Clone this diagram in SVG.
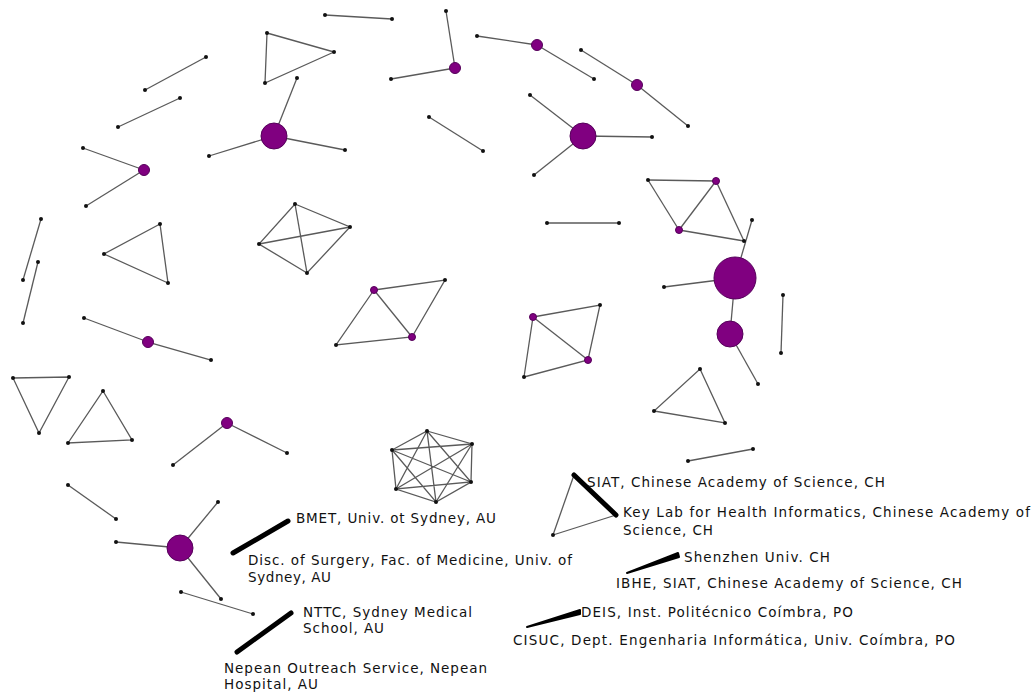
<svg xmlns="http://www.w3.org/2000/svg" width="1034" height="693" viewBox="0 0 1034 693">
<style>
.e{stroke:#5a5a5a;stroke-width:1.3;fill:none}
.k{stroke:#000;stroke-width:5;stroke-linecap:round;fill:none}
.d{fill:#111}
.h{fill:#800080;stroke:#55005a;stroke-width:1}
.l{font-family:"DejaVu Sans","Verdana",sans-serif;font-size:13.5px;fill:#111}
</style>
<rect width="1034" height="693" fill="#fff"/>
<g id="connectors">
<line class="e" x1="325" y1="15" x2="392" y2="19"/>
<line class="e" x1="145" y1="90" x2="206" y2="57"/>
<line class="e" x1="118" y1="127" x2="180" y2="98"/>
<line class="e" x1="144" y1="170" x2="83" y2="148"/>
<line class="e" x1="144" y1="170" x2="86" y2="206"/>
<polygon class="e" points="267,33 334,52 265,83"/>
<line class="e" x1="274" y1="136" x2="297" y2="78"/>
<line class="e" x1="274" y1="136" x2="209" y2="156"/>
<line class="e" x1="274" y1="136" x2="345" y2="150"/>
<line class="e" x1="455" y1="68" x2="446" y2="11"/>
<line class="e" x1="455" y1="68" x2="391" y2="79"/>
<line class="e" x1="537" y1="45" x2="477" y2="36"/>
<line class="e" x1="537" y1="45" x2="594" y2="79"/>
<line class="e" x1="637" y1="85" x2="581" y2="50"/>
<line class="e" x1="637" y1="85" x2="688" y2="126"/>
<line class="e" x1="429" y1="117" x2="483" y2="151"/>
<line class="e" x1="583" y1="136" x2="530" y2="95"/>
<line class="e" x1="583" y1="136" x2="652" y2="137"/>
<line class="e" x1="583" y1="136" x2="534" y2="175"/>
<line class="e" x1="547" y1="223" x2="619" y2="223"/>
<line class="e" x1="648" y1="180" x2="716" y2="181"/>
<line class="e" x1="648" y1="180" x2="679" y2="230"/>
<line class="e" x1="716" y1="181" x2="679" y2="230"/>
<line class="e" x1="679" y1="230" x2="744" y2="241"/>
<line class="e" x1="716" y1="181" x2="744" y2="241"/>
<line class="e" x1="735" y1="278" x2="752" y2="220"/>
<line class="e" x1="735" y1="278" x2="664" y2="287"/>
<line class="e" x1="735" y1="278" x2="730" y2="334"/>
<line class="e" x1="730" y1="334" x2="758" y2="384"/>
<line class="e" x1="783" y1="295" x2="781" y2="353"/>
<line class="e" x1="41" y1="219" x2="23" y2="280"/>
<line class="e" x1="38" y1="262" x2="23" y2="323"/>
<polygon class="e" points="160,224 104,254 168,283"/>
<polygon class="e" points="295,204 350,227 307,273 259,244"/>
<line class="e" x1="295" y1="204" x2="307" y2="273"/>
<line class="e" x1="259" y1="244" x2="350" y2="227"/>
<line class="e" x1="148" y1="342" x2="84" y2="318"/>
<line class="e" x1="148" y1="342" x2="211" y2="360"/>
<polygon class="e" points="13,378 69,377 39,433"/>
<polygon class="e" points="103,391 132,440 68,443"/>
<line class="e" x1="227" y1="423" x2="173" y2="465"/>
<line class="e" x1="227" y1="423" x2="287" y2="453"/>
<polygon class="e" points="374,290 445,280 412,337 336,345"/>
<line class="e" x1="374" y1="290" x2="412" y2="337"/>
<polygon class="e" points="533,317 600,305 588,360 524,377"/>
<line class="e" x1="533" y1="317" x2="588" y2="360"/>
<polygon class="e" points="427,431 472,444 471,482 436,502 396,489 392,450"/>
<polyline class="e" points="427,431 471,482 396,489 427,431 436,502 392,450 471,482"/>
<polyline class="e" points="472,444 436,502"/>
<polyline class="e" points="472,444 396,489"/>
<polyline class="e" points="472,444 392,450"/>
<polygon class="e" points="700,369 725,423 654,411"/>
<line class="e" x1="688" y1="461" x2="753" y2="449"/>
<line class="e" x1="68" y1="485" x2="116" y2="519"/>
<line class="e" x1="180" y1="548" x2="218" y2="502"/>
<line class="e" x1="180" y1="548" x2="116" y2="542"/>
<line class="e" x1="180" y1="548" x2="221" y2="599"/>
<line class="e" x1="181" y1="592" x2="253" y2="614"/>
<line class="k" x1="233" y1="553" x2="288" y2="521"/>
<line class="k" x1="237" y1="652" x2="291" y2="613"/>
<line class="e" x1="574" y1="475" x2="553" y2="535"/>
<line class="e" x1="553" y1="535" x2="616" y2="515"/>
<line class="k" x1="574" y1="475" x2="616" y2="515"/>
<path d="M627,573 L678,553 L679,557 Z" fill="#000" stroke="#000" stroke-width="2" stroke-linejoin="round"/>
<path d="M527,627 L580,610 L580,614 Z" fill="#000" stroke="#000" stroke-width="2" stroke-linejoin="round"/>
</g>
<g id="n1"><circle class="d" cx="325" cy="15" r="2"/></g>
<g id="n2"><circle class="d" cx="392" cy="19" r="2"/></g>
<g id="n3"><circle class="d" cx="145" cy="90" r="2"/></g>
<g id="n4"><circle class="d" cx="206" cy="57" r="2"/></g>
<g id="n5"><circle class="d" cx="118" cy="127" r="2"/></g>
<g id="n6"><circle class="d" cx="180" cy="98" r="2"/></g>
<g id="hub1"><circle class="h" cx="144" cy="170" r="5.5"/></g>
<g id="n7"><circle class="d" cx="83" cy="148" r="2"/></g>
<g id="n8"><circle class="d" cx="86" cy="206" r="2"/></g>
<g id="n9"><circle class="d" cx="267" cy="33" r="2"/></g>
<g id="n10"><circle class="d" cx="334" cy="52" r="2"/></g>
<g id="n11"><circle class="d" cx="265" cy="83" r="2"/></g>
<g id="hub2"><circle class="h" cx="274" cy="136" r="13"/></g>
<g id="n12"><circle class="d" cx="297" cy="78" r="2"/></g>
<g id="n13"><circle class="d" cx="209" cy="156" r="2"/></g>
<g id="n14"><circle class="d" cx="345" cy="150" r="2"/></g>
<g id="hub3"><circle class="h" cx="455" cy="68" r="5.5"/></g>
<g id="n15"><circle class="d" cx="446" cy="11" r="2"/></g>
<g id="n16"><circle class="d" cx="391" cy="79" r="2"/></g>
<g id="hub4"><circle class="h" cx="537" cy="45" r="5.5"/></g>
<g id="n17"><circle class="d" cx="477" cy="36" r="2"/></g>
<g id="n18"><circle class="d" cx="594" cy="79" r="2"/></g>
<g id="hub5"><circle class="h" cx="637" cy="85" r="5.5"/></g>
<g id="n19"><circle class="d" cx="581" cy="50" r="2"/></g>
<g id="n20"><circle class="d" cx="688" cy="126" r="2"/></g>
<g id="n21"><circle class="d" cx="429" cy="117" r="2"/></g>
<g id="n22"><circle class="d" cx="483" cy="151" r="2"/></g>
<g id="hub6"><circle class="h" cx="583" cy="136" r="13"/></g>
<g id="n23"><circle class="d" cx="530" cy="95" r="2"/></g>
<g id="n24"><circle class="d" cx="652" cy="137" r="2"/></g>
<g id="n25"><circle class="d" cx="534" cy="175" r="2"/></g>
<g id="n26"><circle class="d" cx="547" cy="223" r="2"/></g>
<g id="n27"><circle class="d" cx="619" cy="223" r="2"/></g>
<g id="n28"><circle class="d" cx="648" cy="180" r="2"/></g>
<g id="p1"><circle class="h" cx="716" cy="181" r="3.5"/></g>
<g id="p2"><circle class="h" cx="679" cy="230" r="3.5"/></g>
<g id="n29"><circle class="d" cx="744" cy="241" r="2"/></g>
<g id="n30"><circle class="d" cx="752" cy="220" r="2"/></g>
<g id="hub7"><circle class="h" cx="735" cy="278" r="21"/></g>
<g id="n31"><circle class="d" cx="664" cy="287" r="2"/></g>
<g id="hub8"><circle class="h" cx="730" cy="334" r="13"/></g>
<g id="n32"><circle class="d" cx="758" cy="384" r="2"/></g>
<g id="n33"><circle class="d" cx="783" cy="295" r="2"/></g>
<g id="n34"><circle class="d" cx="781" cy="353" r="2"/></g>
<g id="n35"><circle class="d" cx="41" cy="219" r="2"/></g>
<g id="n36"><circle class="d" cx="23" cy="280" r="2"/></g>
<g id="n37"><circle class="d" cx="38" cy="262" r="2"/></g>
<g id="n38"><circle class="d" cx="23" cy="323" r="2"/></g>
<g id="n39"><circle class="d" cx="160" cy="224" r="2"/></g>
<g id="n40"><circle class="d" cx="104" cy="254" r="2"/></g>
<g id="n41"><circle class="d" cx="168" cy="283" r="2"/></g>
<g id="n42"><circle class="d" cx="295" cy="204" r="2"/></g>
<g id="n43"><circle class="d" cx="350" cy="227" r="2"/></g>
<g id="n44"><circle class="d" cx="259" cy="244" r="2"/></g>
<g id="n45"><circle class="d" cx="307" cy="273" r="2"/></g>
<g id="hub9"><circle class="h" cx="148" cy="342" r="5.5"/></g>
<g id="n46"><circle class="d" cx="84" cy="318" r="2"/></g>
<g id="n47"><circle class="d" cx="211" cy="360" r="2"/></g>
<g id="n48"><circle class="d" cx="13" cy="378" r="2"/></g>
<g id="n49"><circle class="d" cx="69" cy="377" r="2"/></g>
<g id="n50"><circle class="d" cx="39" cy="433" r="2"/></g>
<g id="n51"><circle class="d" cx="103" cy="391" r="2"/></g>
<g id="n52"><circle class="d" cx="132" cy="440" r="2"/></g>
<g id="n53"><circle class="d" cx="68" cy="443" r="2"/></g>
<g id="hub10"><circle class="h" cx="227" cy="423" r="5.5"/></g>
<g id="n54"><circle class="d" cx="173" cy="465" r="2"/></g>
<g id="n55"><circle class="d" cx="287" cy="453" r="2"/></g>
<g id="p3"><circle class="h" cx="374" cy="290" r="3.5"/></g>
<g id="n56"><circle class="d" cx="445" cy="280" r="2"/></g>
<g id="p4"><circle class="h" cx="412" cy="337" r="3.5"/></g>
<g id="n57"><circle class="d" cx="336" cy="345" r="2"/></g>
<g id="p5"><circle class="h" cx="533" cy="317" r="3.5"/></g>
<g id="n58"><circle class="d" cx="600" cy="305" r="2"/></g>
<g id="p6"><circle class="h" cx="588" cy="360" r="3.5"/></g>
<g id="n59"><circle class="d" cx="524" cy="377" r="2"/></g>
<g id="n60"><circle class="d" cx="427" cy="431" r="2"/></g>
<g id="n61"><circle class="d" cx="472" cy="444" r="2"/></g>
<g id="n62"><circle class="d" cx="471" cy="482" r="2"/></g>
<g id="n63"><circle class="d" cx="436" cy="502" r="2"/></g>
<g id="n64"><circle class="d" cx="396" cy="489" r="2"/></g>
<g id="n65"><circle class="d" cx="392" cy="450" r="2"/></g>
<g id="n66"><circle class="d" cx="700" cy="369" r="2"/></g>
<g id="n67"><circle class="d" cx="654" cy="411" r="2"/></g>
<g id="n68"><circle class="d" cx="725" cy="423" r="2"/></g>
<g id="n69"><circle class="d" cx="688" cy="461" r="2"/></g>
<g id="n70"><circle class="d" cx="753" cy="449" r="2"/></g>
<g id="n71"><circle class="d" cx="68" cy="485" r="2"/></g>
<g id="n72"><circle class="d" cx="116" cy="519" r="2"/></g>
<g id="hub11"><circle class="h" cx="180" cy="548" r="13"/></g>
<g id="n73"><circle class="d" cx="218" cy="502" r="2"/></g>
<g id="n74"><circle class="d" cx="116" cy="542" r="2"/></g>
<g id="n75"><circle class="d" cx="221" cy="599" r="2"/></g>
<g id="n76"><circle class="d" cx="181" cy="592" r="2"/></g>
<g id="n77"><circle class="d" cx="253" cy="614" r="2"/></g>
<g id="n78"><circle class="d" cx="553" cy="535" r="2"/></g>
<g id="bmet"><text class="l" x="296" y="523" textLength="200" lengthAdjust="spacing">BMET, Univ. ot Sydney, AU</text></g>
<g id="disc"><text class="l" x="248" y="565" textLength="324" lengthAdjust="spacing">Disc. of Surgery, Fac. of Medicine, Univ. of</text><text class="l" x="248" y="582" textLength="83" lengthAdjust="spacing">Sydney, AU</text></g>
<g id="nttc"><text class="l" x="303" y="617" textLength="169" lengthAdjust="spacing">NTTC, Sydney Medical</text><text class="l" x="303" y="633" textLength="81" lengthAdjust="spacing">School, AU</text></g>
<g id="nepean"><text class="l" x="224" y="673" textLength="263" lengthAdjust="spacing">Nepean Outreach Service, Nepean</text><text class="l" x="224" y="689" textLength="94" lengthAdjust="spacing">Hospital, AU</text></g>
<g id="siat"><text class="l" x="587" y="487" textLength="298" lengthAdjust="spacing">SIAT, Chinese Academy of Science, CH</text></g>
<g id="keylab"><text class="l" x="623" y="517" textLength="407" lengthAdjust="spacing">Key Lab for Health Informatics, Chinese Academy of</text><text class="l" x="623" y="535" textLength="90" lengthAdjust="spacing">Science, CH</text></g>
<g id="shenzhen"><text class="l" x="684" y="562" textLength="146" lengthAdjust="spacing">Shenzhen Univ. CH</text></g>
<g id="ibhe"><text class="l" x="616" y="588" textLength="346" lengthAdjust="spacing">IBHE, SIAT, Chinese Academy of Science, CH</text></g>
<g id="deis"><text class="l" x="581" y="617" textLength="272" lengthAdjust="spacing">DEIS, Inst. Politécnico Coímbra, PO</text></g>
<g id="cisuc"><text class="l" x="513" y="645" textLength="442" lengthAdjust="spacing">CISUC, Dept. Engenharia Informática, Univ. Coímbra, PO</text></g>
</svg>
